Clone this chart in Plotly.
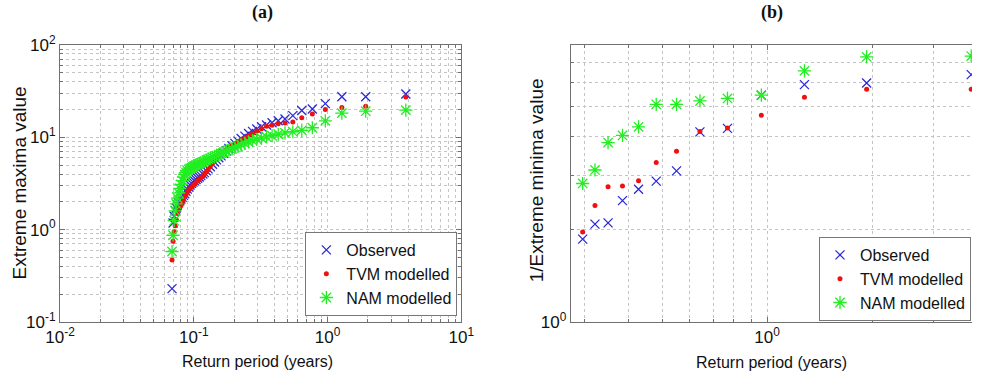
import plotly.graph_objects as go

# ---------------- data: panel (a) ----------------
# return periods (years), largest first (rank order)
period_a = [3.85, 1.93, 1.28, 0.963, 0.770, 0.642, 0.550, 0.481, 0.428, 0.385,
            0.350, 0.321, 0.296, 0.275, 0.257, 0.241, 0.226, 0.214, 0.203, 0.193,
            0.183, 0.175, 0.167, 0.160, 0.154, 0.148, 0.143, 0.138, 0.133, 0.128,
            0.124, 0.120, 0.117, 0.113, 0.110, 0.107, 0.104, 0.101, 0.0987, 0.0963,
            0.0939, 0.0917, 0.0895, 0.0875, 0.0856, 0.0837, 0.0819, 0.0802, 0.0786, 0.0770,
            0.0755, 0.0740, 0.0726, 0.0713, 0.0700, 0.0688]

observed_a = [29.5, 27.5, 27.5, 23.2, 20.3, 19.5, 17.2, 15.8, 15.1, 14.4,
              13.6, 13.0, 12.3, 11.6, 11.0, 10.3, 9.7, 9.1, 8.6, 8.1,
              7.6, 7.1, 6.7, 6.3, 6.0, 5.7, 5.4, 5.1, 4.8, 4.55,
              4.35, 4.15, 4.0, 3.85, 3.72, 3.6, 3.5, 3.38, 3.27, 3.17,
              3.05, 2.9, 2.75, 2.6, 2.45, 2.35, 2.25, 2.15, 2.05, 1.95,
              1.85, 1.72, 1.6, 1.4, 1.18, 0.23]

tvm_a = [27.4, 21.7, 21.0, 20.0, 17.9, 16.3, 14.7, 14.3, 14.0, 13.5,
         13.2, 12.4, 11.7, 11.0, 10.4, 9.9, 9.4, 9.0, 8.6, 8.2,
         7.8, 7.4, 7.0, 6.7, 6.4, 6.0, 5.6, 5.2, 4.8, 4.45,
         4.2, 4.0, 3.8, 3.65, 3.5, 3.4, 3.25, 3.1, 3.0, 2.9,
         2.8, 2.68, 2.55, 2.42, 2.3, 2.1, 1.95, 1.85, 1.75, 1.63,
         1.5, 1.28, 1.1, 0.95, 0.75, 0.47]

nam_a = [19.7, 19.2, 18.3, 15.1, 12.7, 11.9, 11.5, 11.2, 10.8, 10.4,
         10.1, 9.8, 9.5, 9.2, 8.9, 8.6, 8.3, 8.0, 7.8, 7.5,
         7.3, 7.1, 6.9, 6.7, 6.5, 6.35, 6.2, 6.05, 5.9, 5.8,
         5.65, 5.5, 5.4, 5.3, 5.2, 5.1, 5.0, 4.9, 4.8, 4.7,
         4.6, 4.5, 4.35, 4.15, 3.95, 3.7, 3.4, 3.1, 2.8, 2.5,
         2.2, 1.9, 1.6, 1.25, 0.87, 0.58]

# ---------------- data: panel (b) ----------------
period_b = [3.85, 1.93, 1.28, 0.963, 0.770, 0.642, 0.550, 0.481, 0.428, 0.385,
            0.350, 0.321, 0.296]
observed_b = [6.37, 5.98, 5.91, 5.46, 4.26, 4.15, 3.10, 2.87, 2.70, 2.48, 2.10, 2.08, 1.86]
tvm_b = [5.71, 5.71, 5.38, 4.70, 4.27, 4.16, 3.59, 3.30, 2.88, 2.77, 2.75, 2.39, 1.96]
nam_b = [7.32, 7.27, 6.55, 5.46, 5.33, 5.23, 5.10, 5.10, 4.31, 4.04, 3.83, 3.12, 2.82]

series_names = ["Observed", "TVM modelled", "NAM modelled"]
a_tick_x = [0.01, 0.1, 1, 10]
a_tick_x_text = ["10<sup>-2</sup>", "10<sup>-1</sup>", "10<sup>0</sup>", "10<sup>1</sup>"]
a_tick_y = [0.1, 1, 10, 100]
a_tick_y_text = ["10<sup>-1</sup>", "10<sup>0</sup>", "10<sup>1</sup>", "10<sup>2</sup>"]
b_tick_x = [1]
b_tick_x_text = ["10<sup>0</sup>"]
b_tick_y = [1]
b_tick_y_text = ["10<sup>0</sup>"]

# ---------------- styling ----------------
BLUE = "#2a2ad8"
RED = "#ee1111"
GREEN = "#22ee22"
FONT = "Liberation Sans, Arial, sans-serif"
GRID = "#c4c4c4"
AXC = "#707070"

def minor_vals(lo_exp, hi_exp):
    return [d * 10 ** e for e in range(lo_exp, hi_exp) for d in range(2, 10)]

marker_obs = dict(symbol="x-thin", size=9, color=BLUE, line=dict(color=BLUE, width=1.3))
marker_tvm = dict(symbol="circle", size=5, color=RED, line=dict(width=0))
marker_nam = dict(symbol="asterisk", size=11, color=GREEN, line=dict(color=GREEN, width=1.3))

fig = go.Figure()
for name, yv, mk in zip(series_names, [observed_a, tvm_a, nam_a], [marker_obs, marker_tvm, marker_nam]):
    fig.add_trace(go.Scatter(x=period_a, y=yv, mode="markers", name=name, marker=mk,
                             xaxis="x", yaxis="y", legend="legend", cliponaxis=False))
for name, yv, mk in zip(series_names, [observed_b, tvm_b, nam_b], [marker_obs, marker_tvm, marker_nam]):
    fig.add_trace(go.Scatter(x=period_b, y=yv, mode="markers", name=name, marker=mk,
                             xaxis="x2", yaxis="y2", legend="legend2", cliponaxis=True))

common_axis = dict(type="log", showline=True, linecolor=AXC, linewidth=1,
                   showgrid=True, gridcolor=GRID, griddash="dot", gridwidth=1,
                   ticks="inside", ticklen=5, tickcolor=AXC, zeroline=False,
                   tickfont=dict(family=FONT, size=17, color="#111"))
minor_common = dict(showgrid=True, gridcolor=GRID, griddash="dot", gridwidth=1,
                    ticks="inside", ticklen=3, tickcolor=AXC)

legend_common = dict(xanchor="right", yanchor="bottom",
                     bgcolor="white", bordercolor="#777", borderwidth=1,
                     font=dict(family=FONT, size=16, color="#111"),
                     itemwidth=30, tracegroupgap=0)

fig.update_layout(
    width=985, height=377,
    margin=dict(l=60, r=0, t=45, b=55),
    paper_bgcolor="white", plot_bgcolor="white",
    showlegend=True,
    xaxis=dict(common_axis, domain=[0, 0.44], range=[-2, 1], mirror="ticks",
               tickvals=a_tick_x, ticktext=a_tick_x_text,
               minor=dict(minor_common, tickvals=minor_vals(-2, 1))),
    yaxis=dict(common_axis, range=[-1, 2], mirror="ticks",
               tickvals=a_tick_y, ticktext=a_tick_y_text,
               minor=dict(minor_common, tickvals=minor_vals(-1, 2))),
    xaxis2=dict(common_axis, domain=[0.56, 1.0], range=[-0.563, 0.5877], mirror="ticks",
                anchor="y2", tickvals=b_tick_x, ticktext=b_tick_x_text,
                minor=dict(minor_common, tickvals=minor_vals(-1, 1))),
    yaxis2=dict(common_axis, range=[0, 0.9004], anchor="x2", mirror=False,
                tickvals=b_tick_y, ticktext=b_tick_y_text,
                minor=dict(minor_common, tickvals=minor_vals(0, 1))),
    legend=dict(legend_common, x=0.4357, y=0.0217),
    legend2=dict(legend_common, x=0.9989, y=0.0036),
)

title_font = dict(family="Liberation Serif, Times New Roman, serif", size=18, color="#111")
label_font = dict(family=FONT, size=16, color="#111")
ylabel_font = dict(family=FONT, size=19, color="#111")
annotations = [
    dict(text="<b>(a)</b>", x=0.2216, y=1.119, font=title_font),
    dict(text="<b>(b)</b>", x=0.7805, y=1.119, font=title_font),
    dict(text="Return period (years)", x=0.2162, y=-0.1444, font=label_font),
    dict(text="Return period (years)", x=0.7805, y=-0.148, font=label_font),
    dict(text="Extreme maxima value", x=-0.0443, y=0.502, textangle=-90, font=ylabel_font),
    dict(text="1/Extreme minima value", x=0.5222, y=0.5126, textangle=-90, font=ylabel_font),
]
for a in annotations:
    fig.add_annotation(xref="paper", yref="paper", showarrow=False,
                       xanchor="center", yanchor="middle", **a)

fig.write_html("out.html")
